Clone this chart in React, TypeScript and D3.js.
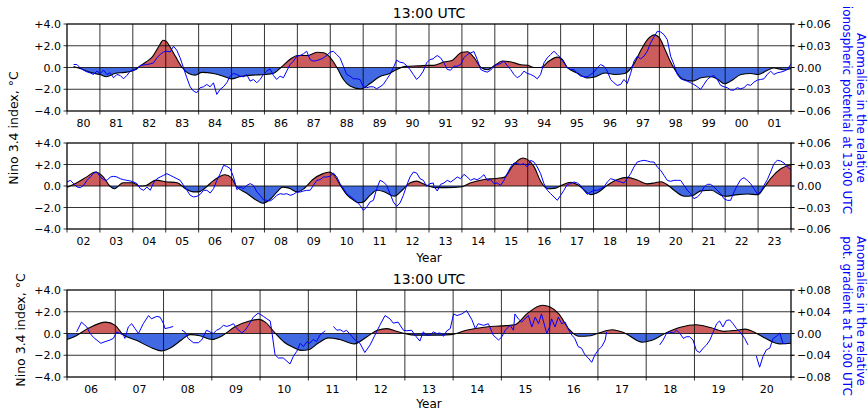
import React from "react";
import * as d3 from "d3";

const W = 868;
const H = 410;

// Nino 3.4 index (°C), [year, value]
const NINO: [number, number][] = [
  [1980.2, 0.1], [1980.4, -0.1], [1980.65, -0.4], [1981.0, -0.65], [1981.2, -0.85], [1981.45, -0.55],
  [1981.75, -0.45], [1982.0, -0.3], [1982.2, 0.1], [1982.4, 0.5], [1982.6, 1.0], [1982.8, 2.0],
  [1982.92, 2.5], [1983.02, 2.4], [1983.12, 1.95], [1983.3, 1.0], [1983.5, 0.0], [1983.7, -0.55],
  [1983.9, -0.7], [1984.1, -0.45], [1984.45, -0.55], [1984.75, -0.8], [1985.0, -1.05], [1985.25, -0.85],
  [1985.65, -0.7], [1986.0, -0.65], [1986.3, -0.5], [1986.5, 0.0], [1986.8, 0.8], [1987.0, 1.1],
  [1987.3, 1.1], [1987.6, 1.4], [1987.8, 1.35], [1988.0, 0.9], [1988.2, 0.0], [1988.4, -1.1],
  [1988.6, -1.7], [1988.9, -1.95], [1989.0, -1.9], [1989.2, -1.5], [1989.5, -0.85], [1989.8, -0.55],
  [1990.0, -0.2], [1990.3, 0.1], [1990.7, 0.15], [1991.0, 0.2], [1991.15, 0.2], [1991.45, 0.5],
  [1991.7, 0.65], [1992.0, 1.4], [1992.17, 1.45], [1992.37, 0.9], [1992.58, 0.0], [1992.78, -0.2],
  [1993.0, 0.2], [1993.23, 0.6], [1993.5, 0.5], [1993.8, 0.25], [1994.0, 0.2], [1994.2, 0.0],
  [1994.4, 0.0], [1994.65, 0.6], [1994.9, 0.95], [1995.05, 0.75], [1995.2, 0.0], [1995.5, -0.5],
  [1995.8, -0.95], [1996.0, -0.9], [1996.35, -0.5], [1996.65, -0.65], [1996.95, -0.55], [1997.25, 0.45],
  [1997.45, 1.65], [1997.65, 2.6], [1997.85, 3.0], [1998.0, 2.75], [1998.15, 1.8], [1998.35, 0.45],
  [1998.5, -0.35], [1998.7, -1.05], [1999.0, -1.25], [1999.27, -0.95], [1999.57, -0.85], [1999.78, -1.1],
  [1999.97, -1.5], [2000.17, -1.25], [2000.48, -0.65], [2000.78, -0.55], [2001.0, -0.65], [2001.28, -0.25],
  [2001.48, -0.05], [2001.78, -0.2], [2002.0, -0.12], [2002.3, 0.3], [2002.6, 0.85], [2002.86, 1.3],
  [2003.1, 0.85], [2003.3, 0.0], [2003.45, -0.25], [2003.7, 0.3], [2004.0, 0.3], [2004.2, 0.0],
  [2004.4, 0.05], [2004.7, 0.55], [2005.0, 0.4], [2005.35, 0.3], [2005.6, -0.25], [2005.84, -0.55],
  [2006.0, -0.55], [2006.15, -0.3], [2006.45, 0.5], [2006.8, 1.05], [2007.0, 0.75], [2007.15, -0.05],
  [2007.45, -0.65], [2007.77, -1.35], [2007.95, -1.6], [2008.15, -1.3], [2008.37, -0.6], [2008.55, -0.1],
  [2008.75, -0.2], [2009.0, -0.55], [2009.2, -0.25], [2009.47, 0.6], [2009.78, 1.15], [2009.97, 1.3],
  [2010.12, 1.0], [2010.3, 0.1], [2010.5, -0.8], [2010.7, -1.3], [2010.85, -1.55], [2011.0, -1.5],
  [2011.2, -0.9], [2011.42, -0.4], [2011.65, -0.55], [2011.95, -0.95], [2012.2, -0.35], [2012.43, 0.3],
  [2012.63, 0.45], [2012.83, 0.2], [2013.0, 0.0], [2013.2, -0.15], [2013.55, -0.15], [2013.95, -0.1],
  [2014.27, 0.3], [2014.68, 0.6], [2015.0, 0.7], [2015.28, 0.8], [2015.55, 1.9], [2015.85, 2.6],
  [2016.0, 2.45], [2016.19, 1.8], [2016.4, 0.4], [2016.6, -0.25], [2016.85, -0.2], [2017.05, 0.1],
  [2017.3, 0.35], [2017.55, 0.05], [2017.92, -0.8], [2018.1, -0.65], [2018.43, 0.1], [2018.73, 0.6],
  [2019.03, 0.8], [2019.33, 0.55], [2019.62, 0.2], [2019.87, 0.3], [2020.05, 0.4], [2020.27, 0.05],
  [2020.45, -0.4], [2020.76, -0.95], [2021.0, -0.9], [2021.26, -0.45], [2021.57, -0.4], [2021.87, -0.85],
  [2022.0, -0.95], [2022.38, -0.8], [2022.68, -0.75], [2023.0, -0.8], [2023.18, -0.15], [2023.38, 0.7],
  [2023.69, 1.6], [2024.0, 2.0],
];

// Ionospheric potential anomalies (units of 0.01), sampled at regular steps
const IONO_A_START = 1980.2;
const IONO_A_STEP = 0.1012;
const IONO_A = [
  0.41, 0.41, -0.05, -0.37, -0.6, -0.75, -0.96, -0.5, -0.82, -0.37, -0.96, -0.73, -1.42, -0.96, -1.1, -1.56,
  -1.1, -0.5, -0.37, -0.27, 0.27, 0.35, 0.41, 0.5, 0.64, 1.33, 1.79, 2.15, 2.24, 2.15, 2.93, 2.38,
  1.33, -0.05, -1.42, -2.66, -3.25, -3.48, -2.79, -2.66, -2.34, -2.66, -2.11, -3.71, -3.02, -2.66, -2.11, -1.19,
  -0.82, -0.96, -1.19, -1.28, -0.96, -1.88, -1.65, -2.11, -1.65, -0.96, -0.5, -0.18, -1.1, -1.65, -1.19, -1.42,
  -0.5, 0.41, 0.87, 1.56, 1.65, 1.88, 2.24, 1.1, 0.87, 0.96, 1.1, 1.33, 1.65, 2.11, 2.24, 1.79,
  1.33, 0.18, -0.96, -1.19, -1.56, -1.56, -1.65, -2.66, -2.79, -2.66, -2.66, -2.93, -2.66, -2.34, -1.65, -0.96,
  -0.05, 1.01, 0.73, 0.64, 0.27, -0.27, -0.96, -1.65, -1.19, -0.5, 0.64, 1.1, 1.19,
];
const IONO_B_START = 1991.15;
const IONO_B_STEP = 0.1013;
const IONO_B = [
  1.33, 1.65, 1.33, 0.64, -0.27, -0.37, 0.18, 0.18, 0.41, 1.33, 1.79, 2.02, 2.2, 1.1, -0.27, -0.5,
  -0.64, -0.37, 0.18, 0.41, 0.55, 0.87, 0.27, -0.27, -0.96, -1.42, -1.1, -0.5, -0.82, -0.96, -1.19, -1.56,
  -0.96, 0.64, 1.33, 1.79, 2.24, 1.79, 1.33, 0.64, -0.05, -0.27, -0.27, -0.82, -1.19, -1.28, -1.28, -0.96,
  -0.64, -0.05, 0.41, 0.18, -0.5, -1.65, -2.11, -2.47, -2.34, -1.65, -2.2, -0.82, 0.87, 1.56, 1.19, 1.56,
  2.24, 3.39, 4.21, 4.99, 4.9, 4.54, 3.85, 1.56, 0.41, -0.96, -1.56, -1.74, -1.88, -2.11, -2.34, -2.66,
  -3.02, -2.34, -1.65, -1.28, -1.1, -1.65, -2.47, -2.66, -2.79, -3.12, -3.12, -2.79, -2.93, -2.79, -2.34, -2.47,
  -2.02, -1.74, -1.65, -1.56, -0.96, -0.5, -0.96, -0.73, -0.64, -0.5, -0.27, 0.41,
];
const IONO_C_START = 2002.0;
const IONO_C_STEP = 0.1012;
const IONO_C = [
  0.56, 0.79, 0.33, -0.14, -0.23, 0.09, 0.79, 1.26, 1.81, 1.95, 1.26, 0.88, 0.79, 1.26, 1.35, 1.26,
  1.02, 0.88, 0.79, 0.7, 0.56, 0.33, -0.37, -0.6, -0.14, -0.6, 0.42, 1.02, 1.26, 1.49, 1.72, 1.49,
  1.26, 1.02, 0.79, 0.09, -0.6, -1.3, -1.53, -1.44, -1.16, -0.6, -0.6, -0.98, -0.37, 0.79, 1.72, 2.88,
  2.74, 2.42, 1.26, -0.51, -0.14, -0.37, 0.09, 0.33, 0.09, -0.84, -1.3, -1.91, -2.0, -2.09, -1.77, -1.3,
  -1.07, -1.16, -1.07, -1.3, -1.16, -0.84, -0.84, -0.7, -0.6, -0.6, 0.09, 0.79, 0.88, 1.26, 1.26, 1.35,
  1.81, 1.26, 0.33, -0.37, -1.07, -1.44, -1.77, -2.23, -2.7, -3.4, -2.93, -2.23, -2.0, -0.37, 0.79, 0.56,
  0.09, -1.07, -2.23, -2.84, -2.37, -1.3, 0.09, 1.26, 1.95, 1.81, 1.02, 0.79, -0.05, 0.33, 0.42,
];
const IONO_D_START = 2013.15;
const IONO_D_STEP = 0.1013;
const IONO_D = [
  -0.05, -0.7, 0.23, 0.42, 0.79, 0.56, 0.88, 1.26, 1.02, 1.63, 1.26, 0.79, 1.02, 0.88, 1.16, 1.58,
  0.79, 0.88, 0.33, 0.42, 0.09, 0.79, 1.72, 2.65, 3.21, 3.12, 2.98, 3.12, 2.65, 3.58, 3.35, 2.65,
  1.72, 0.33, -0.6, -1.07, -1.53, -2.0, -1.3, -0.6, 0.23, 0.33, 0.56, 0.42, 0.09, -0.6, -1.16, -0.84,
  -0.6, -0.6, -0.37, -0.14, 0.56, 1.02, 0.88, 0.7, 0.56, 0.42, 1.02, 1.72, 2.65, 3.35, 3.49, 3.58,
  3.49, 3.35, 3.35, 2.65, 2.19, 1.49, 0.79, 0.65, 0.79, 0.79, 0.79, 0.09, -0.6, -1.07, -1.77, -1.53,
  -1.07, -0.14, 0.23, 0.23, -0.14, -0.6, -1.07, -1.77, -2.0, -2.0, -0.84, 0.09, 0.88, 1.16, 0.79, 0.33,
  -0.37, -1.07, -0.84, 0.09, 0.88, 1.95, 3.12, 3.58, 3.49, 3.21, 2.65, 2.28,
];

// Potential gradient anomalies (units of 0.01), [year, value]; null = gap
const PG: ([number, number] | null)[] = [
  [2006.2, 0.3], [2006.3, 2.1], [2006.41, 1.2], [2006.48, 0], [2006.55, -0.73], [2006.7, -1.8], [2006.79, -1.5],
  [2006.89, -1.2], [2006.96, -0.9], [2007.03, 0.3], [2007.1, 0], [2007.17, -0.3], [2007.2, -0.9], [2007.27, 1.2],
  [2007.34, 1.8], [2007.41, 0.9], [2007.48, 0], [2007.58, 1.8], [2007.69, 3.3], [2007.75, 2.7], [2007.86, 3.15],
  [2007.93, 3.0], [2008.0, 1.8], [2008.03, 0.9], [2008.13, 1.1], [2008.2, 1.3],
  null,
  [2008.38, 0.6], [2008.44, 0.3], [2008.51, -0.9], [2008.62, -1.7], [2008.72, -1.7], [2008.79, -1.2], [2008.89, 0.6],
  [2008.96, 0.3], [2009.03, 0], [2009.1, 0.6], [2009.17, 0.9], [2009.24, 1.5], [2009.31, 1.3], [2009.38, 1.5],
  [2009.45, 1.8], [2009.52, 0.9], [2009.62, 0.1], [2009.69, 0.6], [2009.76, 1.5], [2009.86, 3.0], [2009.96, 3.75],
  [2010.07, 3.15], [2010.14, 2.7], [2010.21, 2.3], [2010.24, 0.6], [2010.31, -3.9], [2010.38, -4.5], [2010.48, -4.5],
  [2010.62, -5.6], [2010.69, -4.2], [2010.76, -3.3], [2010.83, -1.8], [2010.9, -2.4], [2010.97, -1.5], [2011.03, -1.8],
  [2011.1, -1.1], [2011.17, -1.5], [2011.24, -0.3], [2011.35, 0.5],
  null,
  [2011.52, 1.3], [2011.59, 0.6], [2011.66, 0.7], [2011.73, 0.3], [2011.79, 0.6], [2011.86, -0.1], [2011.97, -1.2],
  [2012.07, -1.8], [2012.17, -3.5], [2012.28, -2.1], [2012.38, -0.3], [2012.48, 1.5], [2012.59, 3.3], [2012.69, 2.7],
  [2012.76, 1.9], [2012.86, 2.1], [2012.97, 0.6], [2013.04, 0.5], [2013.14, 0.6], [2013.21, -0.3], [2013.31, -1.4],
  [2013.38, 0.3], [2013.45, -0.3], [2013.52, -0.3], [2013.59, 0.3], [2013.66, 0], [2013.73, 0.1], [2013.8, -0.5],
  [2013.87, 0.5], [2013.94, 0.9], [2014.01, 3.6], [2014.08, 3.3], [2014.18, 3.6], [2014.28, 4.2], [2014.39, 2.5],
  [2014.46, 0.9], [2014.52, 1.8], [2014.63, 1.5], [2014.73, 1.8], [2014.83, -0.3], [2014.94, -1.2], [2015.01, -0.6],
  [2015.08, 0.6], [2015.18, 1.5], [2015.25, 0.6], [2015.28, 3.6], [2015.35, 2.7], [2015.42, 2.1], [2015.49, 2.7],
  [2015.56, 3.3], [2015.63, 1.2], [2015.7, 3.0], [2015.77, 1.8], [2015.83, 3.6], [2015.94, 0], [2016.01, 1.5],
  [2016.04, 2.7], [2016.11, 1.2], [2016.18, 3.0], [2016.25, 1.8], [2016.32, 2.1], [2016.39, 0.7], [2016.46, -0.3],
  [2016.52, -0.9], [2016.59, -2.4], [2016.66, -2.7], [2016.73, -3.9], [2016.8, -4.5], [2016.87, -5.3], [2016.94, -3.9],
  [2017.01, -3.0], [2017.08, -2.4], [2017.15, -1.2], [2017.18, 0.3],
  null,
  [2018.28, -2.1], [2018.35, -1.2], [2018.42, 0], [2018.49, 0.3], [2018.56, 0.1], [2018.63, 0.6], [2018.7, 0],
  [2018.77, -0.9], [2018.83, -0.6], [2018.9, -0.6], [2018.97, -1.2], [2019.04, -3.15], [2019.11, -3.5], [2019.18, -2.7],
  [2019.25, -2.1], [2019.32, -1.2], [2019.39, 0.3], [2019.46, 1.8], [2019.52, 2.3], [2019.59, 1.2], [2019.66, 2.4],
  [2019.73, 2.5], [2019.8, 1.8], [2019.87, 0.9], [2019.94, 0.3], [2020.04, -0.9], [2020.11, -2.1],
  null,
  [2020.28, -4.1], [2020.35, -6.2], [2020.42, -4.2], [2020.49, -3.0], [2020.56, -2.7], [2020.63, -0.9], [2020.7, -0.5],
  [2020.77, 0.1], [2020.83, -1.8], [2020.9, -1.9],
];

const LEFT_TICKS = [4, 2, 0, -2, -4];
const RIGHT_TICKS_IP = [0.06, 0.03, 0, -0.03, -0.06];
const RIGHT_TICKS_PG = [0.08, 0.04, 0, -0.04, -0.08];
const TITLE = "13:00 UTC";
const LEFT_LABEL = "Nino 3.4 index, °C";
const RIGHT_LABEL_IP = ["Anomalies in the relative", "ionospheric potential at 13:00 UTC"];
const RIGHT_LABEL_PG = ["Anomalies in the relative", "pot. gradient at 13:00 UTC"];

type Pt = { t: number; v: number } | null;

function regular(start: number, step: number, vals: number[]): Pt[] {
  return vals.map((v, i) => ({ t: start + step * i, v: v * 0.01 }));
}

const IP_SERIES: Pt[] = [
  ...regular(IONO_A_START, IONO_A_STEP, IONO_A),
  ...regular(IONO_B_START, IONO_B_STEP, IONO_B),
  ...regular(IONO_C_START, IONO_C_STEP, IONO_C),
  ...regular(IONO_D_START, IONO_D_STEP, IONO_D),
];
const PG_SERIES: Pt[] = PG.map((d) => (d ? { t: d[0], v: d[1] * 0.01 } : null));

const FONT = "DejaVu Sans, sans-serif";
const X0 = 67;
const X1 = 791;

function fmtSigned(v: number, digits: number) {
  if (Math.abs(v) < 1e-9) return (0).toFixed(digits);
  const s = Math.abs(v).toFixed(digits);
  return (v > 0 ? "+" : "\u2212") + s;
}

interface PanelProps {
  id: string;
  top: number;
  bottom: number;
  y0: number;
  y1: number;
  rmax: number;
  rticks: number[];
  blue: Pt[];
}

function Panel({ id, top, bottom, y0, y1, rmax, rticks, blue }: PanelProps) {
  const x = d3.scaleLinear().domain([y0, y1]).range([X0, X1]);
  const yl = d3.scaleLinear().domain([-4, 4]).range([bottom, top]);
  const yr = d3.scaleLinear().domain([-rmax, rmax]).range([bottom, top]);
  const z = yl(0);

  const nino = NINO.filter((d, i) => {
    const prev = NINO[i - 1];
    const next = NINO[i + 1];
    return (d[0] >= y0 && d[0] <= y1) || (next && next[0] > y0 && d[0] < y0) || (prev && prev[0] < y1 && d[0] > y1);
  });

  const area = d3
    .area<[number, number]>()
    .x((d) => x(d[0]))
    .y0(z)
    .y1((d) => yl(d[1]))
    .curve(d3.curveMonotoneX);
  const line = d3
    .line<[number, number]>()
    .x((d) => x(d[0]))
    .y((d) => yl(d[1]))
    .curve(d3.curveMonotoneX);

  const bl = blue.filter((d) => d === null || (d.t >= y0 - 0.2 && d.t <= y1 + 0.2));
  const blueLine = d3
    .line<Pt>()
    .defined((d) => d !== null)
    .x((d) => x((d as any).t))
    .y((d) => yr((d as any).v));

  const years = d3.range(Math.ceil(y0), Math.floor(y1) + 1);
  const labelYears = d3.range(y0, y1);
  const aPath = area(nino) || "";

  return (
    <g>
      <defs>
        <clipPath id={`${id}-clip`}>
          <rect x={X0} y={top} width={X1 - X0} height={bottom - top} />
        </clipPath>
        <clipPath id={`${id}-pos`}>
          <rect x={X0} y={top} width={X1 - X0} height={z - top} />
        </clipPath>
        <clipPath id={`${id}-neg`}>
          <rect x={X0} y={z} width={X1 - X0} height={bottom - z} />
        </clipPath>
      </defs>
      <g clipPath={`url(#${id}-clip)`}>
        <path d={aPath} fill="#cd5c5c" clipPath={`url(#${id}-pos)`} />
        <path d={aPath} fill="#4169e1" clipPath={`url(#${id}-neg)`} />
      </g>
      {years.map((yr0) => (
        <line key={`v${yr0}`} x1={x(yr0)} x2={x(yr0)} y1={top} y2={bottom + 3.5} stroke="#000" strokeWidth={0.8} />
      ))}
      {LEFT_TICKS.map((t) => (
        <line key={`h${t}`} x1={X0 - 3.5} x2={X1 + 3.5} y1={yl(t)} y2={yl(t)} stroke="#000" strokeWidth={0.8} />
      ))}
      <g clipPath={`url(#${id}-clip)`}>
        <path d={line(nino) || ""} fill="none" stroke="#000" strokeWidth={1.1} />
        <path d={blueLine(bl) || ""} fill="none" stroke="#0000ff" strokeWidth={1} />
      </g>
      <rect x={X0} y={top} width={X1 - X0} height={bottom - top} fill="none" stroke="#000" strokeWidth={0.8} />
      {LEFT_TICKS.map((t) => (
        <text key={`lt${t}`} x={X0 - 6} y={yl(t) + 4} textAnchor="end" fontSize={11} fontFamily={FONT} fill="#000">
          {fmtSigned(t, 1)}
        </text>
      ))}
      {rticks.map((t) => (
        <g key={`rt${t}`}>
          <line x1={X1} x2={X1 + 3.5} y1={yr(t)} y2={yr(t)} stroke="#000" strokeWidth={0.8} />
          <text x={X1 + 6} y={yr(t) + 4} textAnchor="start" fontSize={11} fontFamily={FONT} fill="#000">
            {fmtSigned(t, 2)}
          </text>
        </g>
      ))}
      {labelYears.map((yy) => (
        <text key={`xl${yy}`} x={x(yy + 0.5)} y={bottom + 16} textAnchor="middle" fontSize={11} fontFamily={FONT} fill="#000">
          {String(yy % 100).padStart(2, "0")}
        </text>
      ))}
    </g>
  );
}

function RotLabel({ x, y, angle, text, color, size }: { x: number; y: number; angle: number; text: string; color: string; size: number }) {
  return (
    <text
      transform={`translate(${x},${y}) rotate(${angle})`}
      textAnchor="middle"
      fontSize={size}
      fontFamily={FONT}
      fill={color}
    >
      {text}
    </text>
  );
}

export default function App() {
  return (
    <svg width={W} height={H} viewBox={`0 0 ${W} ${H}`} style={{ display: "block", position: "absolute", left: 0, top: 0, background: "#fff" }}>
      <rect x={0} y={0} width={W} height={H} fill="#fff" />
      <text x={429} y={18} textAnchor="middle" fontSize={14} fontFamily={FONT}>{TITLE}</text>
      <Panel id="p1" top={24} bottom={111} y0={1980} y1={2002} rmax={0.06} rticks={RIGHT_TICKS_IP} blue={IP_SERIES} />
      <Panel id="p2" top={143} bottom={229} y0={2002} y1={2024} rmax={0.06} rticks={RIGHT_TICKS_IP} blue={IP_SERIES} />
      <text x={429} y={262} textAnchor="middle" fontSize={12} fontFamily={FONT}>Year</text>
      <text x={429} y={284} textAnchor="middle" fontSize={14} fontFamily={FONT}>{TITLE}</text>
      <Panel id="p3" top={290} bottom={377} y0={2006} y1={2021} rmax={0.08} rticks={RIGHT_TICKS_PG} blue={PG_SERIES} />
      <text x={429} y={408} textAnchor="middle" fontSize={12} fontFamily={FONT}>Year</text>

      <RotLabel x={18} y={128} angle={-90} text={LEFT_LABEL} color="#000" size={12.5} />
      <RotLabel x={25} y={330} angle={-90} text={LEFT_LABEL} color="#000" size={12.5} />

      <RotLabel x={857} y={108} angle={90} text={RIGHT_LABEL_IP[0]} color="#0000ff" size={12} />
      <RotLabel x={843} y={110} angle={90} text={RIGHT_LABEL_IP[1]} color="#0000ff" size={12} />
      <RotLabel x={857} y={311} angle={90} text={RIGHT_LABEL_PG[0]} color="#0000ff" size={12} />
      <RotLabel x={843} y={316} angle={90} text={RIGHT_LABEL_PG[1]} color="#0000ff" size={12} />
    </svg>
  );
}
